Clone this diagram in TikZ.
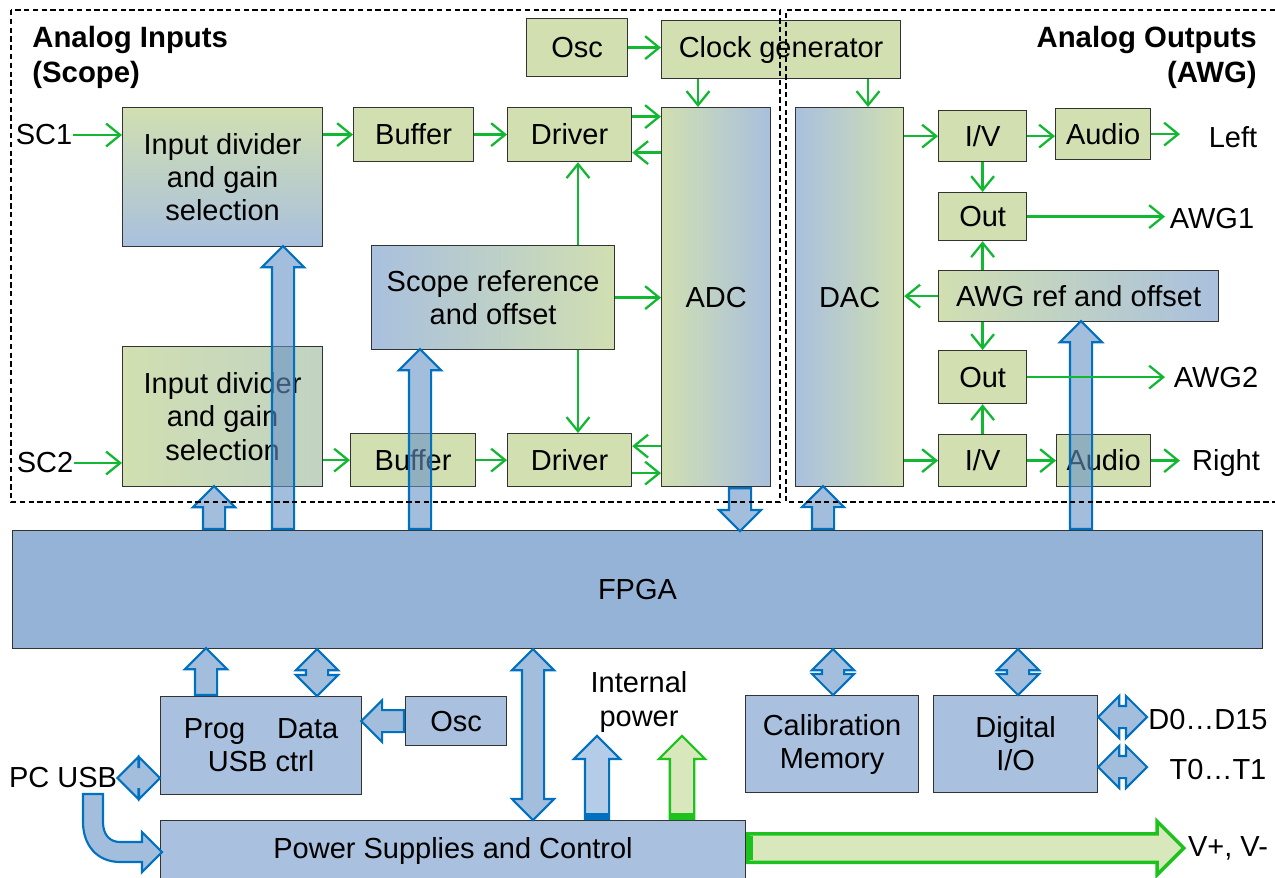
\documentclass[tikz,border=0pt]{standalone}
\usepackage{fontspec}
\setmainfont{Liberation Sans}
\usetikzlibrary{positioning,calc,shapes.arrows,arrows.meta}

\definecolor{gbox}{HTML}{D1DFB1}
\definecolor{bbox}{HTML}{A9C0DE}
\definecolor{fpgac}{HTML}{95B3D7}
\definecolor{sigc}{HTML}{12B831}
\definecolor{busc}{HTML}{0070C0}
\definecolor{busf}{HTML}{6691C5}
\definecolor{ipwrf}{HTML}{B5CCE8}
\definecolor{pwrc}{HTML}{1DC21D}
\definecolor{pwrf}{HTML}{D9E8BC}

% fat bus arrow from #2 to #3
\newcommand{\busto}[3][]{%
  \path let \p1=(#2), \p2=(#3), \n1={veclen(\x2-\x1,\y2-\y1)}, \n2={atan2(\y2-\y1,\x2-\x1)} in
    node[bus,#1,anchor=tail,rotate=\n2,minimum height=\n1] at (\p1) {};}
% fat bus arrow both ways
\newcommand{\busboth}[3][]{%
  \path let \p1=(#2), \p2=(#3), \n1={veclen(\x2-\x1,\y2-\y1)}, \n2={atan2(\y2-\y1,\x2-\x1)} in
    node[bus,double arrow,#1,rotate=\n2,minimum height=\n1] at ($(\p1)!.5!(\p2)$) {};}

\begin{document}
\begin{tikzpicture}[x=0.02cm,y=-0.02cm,
    every node/.style={font=\fontsize{16.5}{18.8}\selectfont},
    blk/.style={draw=black!80,line width=.7pt,inner sep=0pt,align=center,anchor=north west},
    gblk/.style={blk,fill=gbox},
    bblk/.style={blk,fill=bbox},
    lbl/.style={inner sep=0pt},
    ttl/.style={inner sep=0pt,font=\fontsize{16.7}{20}\selectfont\bfseries},
    sig/.style={draw=sigc,line width=1.3pt,-{Straight Barb[length=8pt,width=13pt]}},
    area/.style={draw=black,line width=.6pt,dash pattern=on 3pt off 2pt},
    bus/.style={single arrow,single arrow head extend=.2cm,double arrow head extend=.2cm,
      draw=busc,fill=busf,fill opacity=.6,line width=1.2pt,inner sep=0pt,
      text height=.4cm,text depth=0pt,minimum width=.8cm},
    pwrbus/.style={draw=pwrc,fill=pwrf,fill opacity=1,line width=2pt,
      text height=.5cm,minimum width=1cm,single arrow head extend=.25cm}]
\useasboundingbox (0,0) rectangle (1275,877);

% scope side
\node[ttl,anchor=west,align=left] (tin) at (32,57) {Analog Inputs\\(Scope)};
\node[gblk,minimum width=4cm,minimum height=2.78cm,top color=gbox,bottom color=bbox] (div1) at (122,107) {Input divider\\and gain\\selection};
\node[gblk,minimum width=2.4cm,minimum height=1.08cm] (buf1) at (353,107) {Buffer};
\node[gblk,minimum width=2.48cm,minimum height=1.08cm] (drv1) at (507,107) {Driver};
\node[gblk,minimum width=2.02cm,minimum height=1.16cm] (osc1) at (526,18) {Osc};
\node[gblk,minimum width=4.78cm,minimum height=1.16cm] (clk) at (661,20) {Clock generator};
\node[gblk,minimum width=2.18cm,minimum height=7.58cm,left color=gbox,right color=bbox] (adc) at (661,107) {ADC};
\node[bblk,minimum width=4.86cm,minimum height=2.08cm,left color=bbox,right color=gbox] (sref) at (371,245) {Scope reference\\and offset};
\node[gblk,minimum width=4cm,minimum height=2.8cm,left color=gbox,middle color=bbox,right color=gbox!60!bbox] (div2) at (122,346) {Input divider\\and gain\\selection};
\node[gblk,minimum width=2.5cm,minimum height=1.06cm] (buf2) at (350,433) {Buffer};
\node[gblk,minimum width=2.48cm,minimum height=1.06cm] (drv2) at (507,433) {Driver};
\node[lbl] (sc1) at (44,135) {SC1};
\node[lbl] (sc2) at (45,463) {SC2};

% awg side
\node[ttl,anchor=east,align=right] (tout) at (1257,57) {Analog Outputs\\(AWG)};
\node[bblk,minimum width=2.16cm,minimum height=7.58cm,left color=bbox,right color=gbox] (dac) at (795,107) {DAC};
\node[gblk,minimum width=1.76cm,minimum height=1.02cm] (iv1) at (938,110) {I/V};
\node[gblk,minimum width=1.9cm,minimum height=1.02cm] (aud1) at (1055,108) {Audio};
\node[gblk,minimum width=1.76cm,minimum height=.96cm] (out1) at (938,192) {Out};
\node[gblk,minimum width=5.6cm,minimum height=1.02cm,left color=gbox,right color=bbox] (aref) at (938,270) {AWG ref and offset};
\node[gblk,minimum width=1.76cm,minimum height=1.06cm] (out2) at (938,350) {Out};
\node[gblk,minimum width=1.76cm,minimum height=1.04cm] (iv2) at (938,434) {I/V};
\node[gblk,minimum width=1.88cm,minimum height=1.04cm] (aud2) at (1056,434) {Audio};
\node[lbl] (left) at (1233,137) {Left};
\node[lbl] (awg1) at (1212,219) {AWG1};
\node[lbl] (awg2) at (1216,378) {AWG2};
\node[lbl] (right) at (1226,463) {Right};
\coordinate (tipa) at (1180,0);
\coordinate (tipb) at (1165,0);

% fpga and the rest
\node[blk,fill=fpgac,minimum width=25cm,minimum height=2.36cm] (fpga) at (12,530) {FPGA};
\node[bblk,minimum width=4.02cm,minimum height=1.96cm] (usb) at (160,696) {Prog\hspace{1.1em}Data\\USB ctrl};
\node[bblk,minimum width=2.02cm,minimum height=.98cm] (osc2) at (405,696) {Osc};
\node[bblk,minimum width=3.46cm,minimum height=1.94cm] (cal) at (745,695) {Calibration\\Memory};
\node[bblk,minimum width=3.28cm,minimum height=1.94cm] (dio) at (933,695) {Digital\\I/O};
\node[bblk,minimum width=11.7cm,minimum height=1.2cm] (pwr) at (160,820) {Power Supplies and Control};
\node[lbl] (pcusb) at (63,778) {PC USB};
\node[lbl,align=center] (ipwr) at (639,702) {Internal\\power};
\node[lbl] (dq) at (1208,720) {D0…D15};
\node[lbl] (tq) at (1218,770) {T0…T1};
\node[lbl] (vpm) at (1228,848) {V+, V-};

% bus arrows
\coordinate (b1) at (214,0);
\coordinate (b2) at (283,0);
\coordinate (b3) at (420,0);
\coordinate (b4) at (740,0);
\coordinate (b5) at (823,0);
\coordinate (b6) at (1081,0);
\coordinate (b7) at (206,0);
\coordinate (b8) at (317,0);
\coordinate (b11) at (533,0);
\coordinate (b14) at (833,0);
\coordinate (b15) at (1018,0);
\coordinate (ipb) at (597,737);
\coordinate (ipg) at (682,737);
\coordinate (dqa) at (1147,717);
\coordinate (tqa) at (1147,767);
\coordinate (vq) at (1182,848);
\busto{b1 |- fpga.north}{b1 |- div2.south}
\busto{b2 |- fpga.north}{b2 |- div1.south}
\busto{b3 |- fpga.north}{b3 |- sref.south}
\busto{b4 |- adc.south}{b4 |- fpga.north}
\busto{b5 |- fpga.north}{b5 |- dac.south}
\busto{b6 |- fpga.north}{b6 |- aref.south}
\busto{b7 |- usb.north}{b7 |- fpga.south}
\busboth{b8 |- fpga.south}{b8 |- usb.north}
\busto{osc2.west}{osc2.west -| usb.east}
\busboth{pcusb.east}{pcusb.east -| usb.west}
\busboth{b11 |- fpga.south}{b11 |- pwr.north}
\busto[fill=ipwrf,fill opacity=1,text height=.44cm,minimum width=.88cm,single arrow head extend=.22cm]{ipb |- pwr.north}{ipb}
\busto[pwrbus,line width=1.3pt,text height=.44cm,minimum width=.88cm,single arrow head extend=.22cm]{ipg |- pwr.north}{ipg}
\busboth{b14 |- fpga.south}{b14 |- cal.north}
\busboth{b15 |- fpga.south}{b15 |- dio.north}
\busboth{dqa -| dio.east}{dqa}
\busboth{tqa -| dio.east}{tqa}
\busto[pwrbus]{vq -| pwr.east}{vq}
\coordinate (pb) at (ipb |- pwr.north);
\coordinate (pg) at (ipg |- pwr.north);
\coordinate (pv) at (vq -| pwr.east);
\fill[busc] ($(pb)+(-11,-7)$) rectangle ($(pb)+(11,0)$);
\fill[pwrc] ($(pg)+(-11,-7)$) rectangle ($(pg)+(11,0)$);
\fill[pwrc] ($(pv)+(0,-12)$) rectangle ($(pv)+(7,12)$);
% usb into power supply
\draw[draw=busc,fill=busf,fill opacity=.6,line width=1.2pt] (83,794) -- (83,822)
  .. controls (83,845) and (97,862) .. (120,862) -- (142,862) -- (142,872) -- (162,852)
  -- (142,832) -- (142,842) -- (120,842) .. controls (110,842) and (103,835) .. (103,822)
  -- (103,794) -- cycle;

% signal arrows
\coordinate (d1a) at ($(drv1.east)+(0,-18)$);
\coordinate (d1b) at ($(drv1.east)+(0,18)$);
\coordinate (d2a) at ($(drv2.east)+(0,-14)$);
\coordinate (d2b) at ($(drv2.east)+(0,13)$);
\coordinate (ca) at (698,0);
\coordinate (cd) at (868,0);
\coordinate (sx) at (578,0);
\draw[sig] (sc1.east) -- (sc1.east -| div1.west);
\draw[sig] (buf1.west -| div1.east) -- (buf1.west);
\draw[sig] (buf1) -- (drv1);
\draw[sig] (d1a) -- (d1a -| adc.west);
\draw[sig] (d1b -| adc.west) -- (d1b);
\draw[sig] (osc1.east) -- (osc1.east -| clk.west);
\draw[sig] (ca |- clk.south) -- (ca |- adc.north);
\draw[sig] (cd |- clk.south) -- (cd |- dac.north);
\draw[sig] (sx |- sref.north) -- (sx |- drv1.south);
\draw[sig] (sx |- sref.south) -- (sx |- drv2.north);
\draw[sig] (sref.east) -- (sref.east -| adc.west);
\draw[sig] (sc2.east) -- (sc2.east -| div2.west);
\draw[sig] (buf2.west -| div2.east) -- (buf2.west);
\draw[sig] (buf2) -- (drv2);
\draw[sig] (d2a -| adc.west) -- (d2a);
\draw[sig] (d2b) -- (d2b -| adc.west);
\draw[sig] (iv1.west -| dac.east) -- (iv1.west);
\draw[sig] (iv1.east) -- (iv1.east -| aud1.west);
\draw[sig] (aud1.east) -- (aud1.east -| tipa);
\draw[sig] (iv1) -- (out1);
\draw[sig] (out1.east) -- (out1.east -| tipb);
\draw[sig] (aref.west) -- (aref.west -| dac.east);
\draw[sig] (out1.south |- aref.north) -- (out1.south);
\draw[sig] (out2.north |- aref.south) -- (out2.north);
\draw[sig] (out2.east) -- (out2.east -| tipb);
\draw[sig] (iv2) -- (out2);
\draw[sig] (iv2.west -| dac.east) -- (iv2.west);
\draw[sig] (iv2) -- (aud2);
\draw[sig] (aud2.east) -- (aud2.east -| tipa);

% dashed areas
\draw[area] (11,10) rectangle (780,502);
\draw[area] (1275,10) -- (786,10) -- (786,502) -- (1275,502);
\end{tikzpicture}
\end{document}
